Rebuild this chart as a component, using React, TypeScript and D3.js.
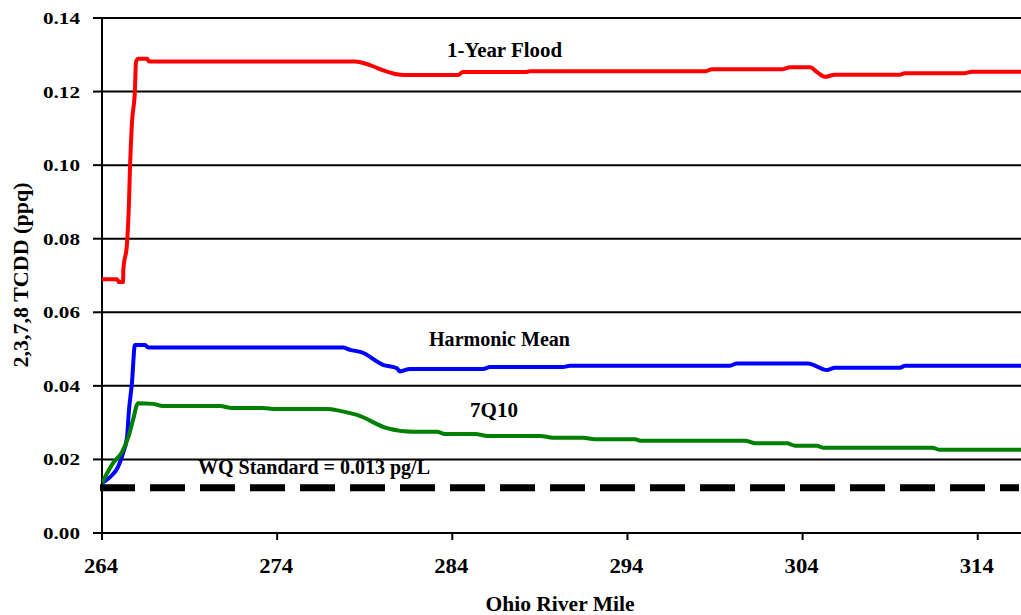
import React from "react";
import * as d3 from "d3";

const yTicks = [0, 0.02, 0.04, 0.06, 0.08, 0.1, 0.12, 0.14];
const yTickLabels = ["0.00", "0.02", "0.04", "0.06", "0.08", "0.10", "0.12", "0.14"];
const xTicks = [264, 274, 284, 294, 304, 314];
const xTickLabels = ["264", "274", "284", "294", "304", "314"];

// [river mile, TCDD ppq]
const floodSeries: [number, number][] = [
  [264.0, 0.069], [264.86, 0.069], [264.97, 0.0682], [265.2, 0.0682], [265.22, 0.0715],
  [265.43, 0.0788], [265.54, 0.0897], [265.6, 0.0995], [265.71, 0.1115], [265.88, 0.1204],
  [265.94, 0.128], [266.06, 0.1289], [266.57, 0.1289], [266.68, 0.1282], [278.44, 0.1282],
  [279.3, 0.1272], [279.87, 0.1261], [280.73, 0.1248], [281.3, 0.1245], [284.33, 0.1245],
  [284.61, 0.1253], [288.15, 0.1253], [288.44, 0.1255], [298.43, 0.1255], [298.83, 0.1261],
  [302.88, 0.1261], [303.28, 0.1266], [304.42, 0.1266], [304.85, 0.1252], [305.28, 0.124],
  [305.85, 0.1246], [309.56, 0.1246], [309.85, 0.125], [313.27, 0.125], [313.67, 0.1254],
  [316.5, 0.1254],
];

const harmonicSeries: [number, number][] = [
  [264.0, 0.0136], [264.46, 0.0152], [264.91, 0.0179], [265.2, 0.0217], [265.43, 0.0261],
  [265.54, 0.0334], [265.71, 0.0408], [265.88, 0.0511], [266.46, 0.0511], [266.63, 0.0504],
  [277.76, 0.0504], [278.16, 0.0498], [278.84, 0.0491], [280.04, 0.0457], [280.84, 0.0448],
  [281.01, 0.0439], [281.58, 0.0446], [285.75, 0.0446], [286.15, 0.0451], [290.32, 0.0451],
  [290.72, 0.0455], [299.86, 0.0455], [300.25, 0.0461], [304.31, 0.0461], [305.39, 0.0443],
  [305.85, 0.0449], [309.56, 0.0449], [309.85, 0.0455], [316.5, 0.0455],
];

const q710Series: [number, number][] = [
  [264.0, 0.0136], [264.63, 0.019], [265.14, 0.022], [265.54, 0.0266], [265.77, 0.0307],
  [266.06, 0.0353], [266.91, 0.0351], [267.48, 0.0345], [270.74, 0.0345], [271.42, 0.034],
  [273.19, 0.034], [273.88, 0.0337], [276.85, 0.0337], [277.59, 0.0332], [278.56, 0.0321],
  [280.27, 0.0285], [281.76, 0.0275], [283.13, 0.0275], [283.58, 0.0269], [285.3, 0.0269],
  [286.04, 0.0264], [289.01, 0.0264], [289.75, 0.0259], [291.46, 0.0259], [292.15, 0.0255],
  [294.43, 0.0255], [294.72, 0.0251], [300.71, 0.0251], [301.28, 0.0244], [303.11, 0.0244],
  [303.57, 0.0237], [304.82, 0.0237], [305.16, 0.0232], [311.39, 0.0232], [311.84, 0.0226],
  [316.5, 0.0226],
];

const wqStandard = 0.0123;
const xDomain: [number, number] = [264, 316.47];

const FONT = "'Liberation Serif', 'Times New Roman', serif";

export default function App() {
  const left = 102, right = 1021, top = 18, bottom = 533;
  const x = d3.scaleLinear().domain(xDomain).range([left, right]);
  const y = d3.scaleLinear().domain([0, 0.14]).range([bottom, top]);
  const line = d3
    .line<[number, number]>()
    .x((d) => x(d[0]))
    .y((d) => y(d[1]))
    .curve(d3.curveMonotoneX);

  const series = [
    { data: floodSeries, color: "#FF0000" },
    { data: harmonicSeries, color: "#0000FF" },
    { data: q710Series, color: "#008000" },
  ];

  return (
    <svg
      width={1021}
      height={615}
      style={{ position: "absolute", left: 0, top: 0, background: "#fff" }}
      fontFamily={FONT}
      fontWeight="bold"
    >
      <defs>
        <clipPath id="plot">
          <rect x={left} y={0} width={right - left} height={bottom + 10} />
        </clipPath>
      </defs>
      {/* gridlines */}
      {yTicks.slice(1).map((t) => (
        <line key={t} x1={left} x2={right} y1={y(t)} y2={y(t)} stroke="#000" strokeWidth={2} />
      ))}
      {/* y ticks & labels */}
      {yTicks.map((t, i) => (
        <g key={"yt" + t}>
          <line x1={93} x2={left} y1={y(t)} y2={y(t)} stroke="#000" strokeWidth={2} />
          <text x={80} y={y(t) + 6} textAnchor="end" fontSize={16} textLength={37} lengthAdjust="spacingAndGlyphs">
            {yTickLabels[i]}
          </text>
        </g>
      ))}
      {/* axes */}
      <line x1={left} x2={left} y1={top} y2={540} stroke="#000" strokeWidth={2} />
      <line x1={left} x2={right} y1={bottom} y2={bottom} stroke="#000" strokeWidth={2} />
      {xTicks.map((t, i) => (
        <g key={"xt" + t}>
          <line x1={x(t)} x2={x(t)} y1={bottom} y2={540} stroke="#000" strokeWidth={2} />
          <text x={x(t) - 1} y={573} textAnchor="middle" fontSize={20} textLength={34} lengthAdjust="spacingAndGlyphs">
            {xTickLabels[i]}
          </text>
        </g>
      ))}
      {/* WQ standard */}
      <line
        x1={left}
        x2={right}
        y1={y(wqStandard)}
        y2={y(wqStandard)}
        stroke="#000"
        strokeWidth={7}
        strokeDasharray="35 15"
        transform="translate(-2,0)"
      />
      {/* series */}
      <g clipPath="url(#plot)">
        {series.map((s, i) => (
          <path key={i} d={line(s.data) ?? ""} fill="none" stroke={s.color} strokeWidth={4} strokeLinejoin="round" />
        ))}
      </g>
      {/* labels */}
      <text x={447} y={57} fontSize={20} textLength={115} lengthAdjust="spacingAndGlyphs">1-Year Flood</text>
      <text x={429} y={346} fontSize={20} textLength={141} lengthAdjust="spacingAndGlyphs">Harmonic Mean</text>
      <text x={470} y={417} fontSize={20} textLength={48} lengthAdjust="spacingAndGlyphs">7Q10</text>
      <text x={198} y={474} fontSize={20} textLength={232} lengthAdjust="spacingAndGlyphs">WQ Standard = 0.013 pg/L</text>
      {/* axis titles */}
      <text x={560} y={611} textAnchor="middle" fontSize={20} textLength={149} lengthAdjust="spacingAndGlyphs">
        Ohio River Mile
      </text>
      <text
        transform="translate(28,275) rotate(-90)"
        textAnchor="middle"
        fontSize={20}
        textLength={185}
        lengthAdjust="spacingAndGlyphs"
      >
        2,3,7,8 TCDD (ppq)
      </text>
    </svg>
  );
}
